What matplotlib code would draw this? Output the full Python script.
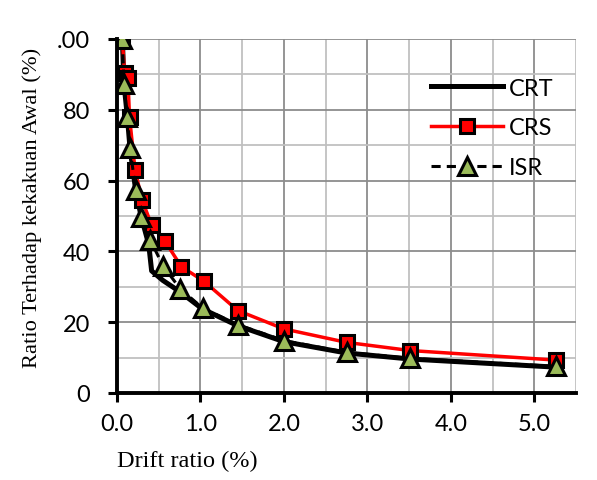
import matplotlib
matplotlib.use("Agg")
import matplotlib.pyplot as plt
from matplotlib.ticker import MultipleLocator

# ---- data ----
crt_x = [0.064, 0.084, 0.124, 0.156, 0.224, 0.29, 0.38, 0.415, 0.55, 0.76, 1.02, 1.447, 2.0, 2.75, 3.51, 5.26]
crt_y = [100, 87.3, 78.1, 69.1, 57.3, 49.8, 42.0, 34.5, 31.8, 28.5, 23.8, 19.0, 14.5, 11.3, 9.6, 7.3]

crs_x = [0.064, 0.09, 0.13, 0.15, 0.216, 0.30, 0.416, 0.575, 0.77, 1.04, 1.447, 2.0, 2.75, 3.51, 5.26]
crs_y = [100, 90.4, 89.0, 78.0, 63.0, 54.5, 47.4, 42.9, 35.7, 31.6, 23.3, 18.1, 14.3, 12.0, 9.3]

isr_x = [0.064, 0.084, 0.124, 0.156, 0.224, 0.29, 0.40, 0.555, 0.755, 1.025, 1.447, 2.0, 2.75, 3.51, 5.26]
isr_y = [100, 87.3, 78.1, 69.1, 57.3, 49.8, 43.1, 35.8, 29.5, 24.0, 19.3, 14.8, 11.5, 9.8, 7.5]

x_ticks = [0, 1, 2, 3, 4, 5]
x_tick_labels = ["0.0", "1.0", "2.0", "3.0", "4.0", "5.0"]
y_ticks = [0, 20, 40, 60, 80, 100]
y_tick_labels = ["0", "20", "40", "60", "80", ".00"]

W, H = 597, 481
fig = plt.figure(figsize=(W / 100, H / 100), dpi=100)
ax = fig.add_axes([117 / W, 1 - 394 / H, (576 - 117) / W, (394 - 40) / H])

ax.set_xlim(0, 5.5)
ax.set_ylim(0, 100)

ax.xaxis.set_minor_locator(MultipleLocator(0.5))
ax.yaxis.set_minor_locator(MultipleLocator(10))
ax.grid(which="major", color="#8c8c8c", linewidth=1.3, zorder=0)
ax.grid(which="minor", color="#c0c0c0", linewidth=1.3, zorder=0)
ax.set_axisbelow(True)

ax.plot(crt_x, crt_y, color="black", linewidth=3.6, label="CRT", zorder=3,
        solid_joinstyle="round")
ax.plot(crs_x, crs_y, color="#ff0000", linewidth=2.5, marker="s", markersize=9.5,
        markerfacecolor="#ff0000", markeredgecolor="black", markeredgewidth=2.2,
        label="CRS", zorder=4)
ax.plot(isr_x, isr_y, color="black", linewidth=2.2, linestyle=(0, (3, 2)),
        marker="^", markersize=12.5, markerfacecolor="#9bbb59",
        markeredgecolor="black", markeredgewidth=2.2, label="ISR", zorder=5)

ax.set_xticks(x_ticks)
ax.set_xticklabels(x_tick_labels)
ax.set_yticks(y_ticks)
ax.set_yticklabels(y_tick_labels)
ax.tick_params(which="major", direction="out", length=6.5, width=2.2,
               color="black", labelsize=17)
ax.tick_params(axis="y", pad=13)
ax.tick_params(axis="x", pad=8)
ax.tick_params(which="minor", length=0)
for lab in ax.get_xticklabels() + ax.get_yticklabels():
    lab.set_fontfamily("Lato")

for s in ["top", "right"]:
    ax.spines[s].set_visible(False)
for s in ["left", "bottom"]:
    ax.spines[s].set_linewidth(2.8)
    ax.spines[s].set_color("black")
    ax.spines[s].set_zorder(6)

leg = ax.legend(loc="center left", bbox_to_anchor=(430.7 / W, 1 - 129 / H),
                bbox_transform=fig.transFigure, frameon=False, borderpad=0,
                borderaxespad=0, handlelength=3.05, handletextpad=0.25,
                labelspacing=0.8, numpoints=1,
                prop={"family": "Lato", "size": 17})

fig.text(187 / W, 1 - 466.7 / H, "Drift ratio (%)", ha="center", va="baseline",
         fontfamily="Liberation Serif", fontsize=17.5)
fig.text(32 / W, 1 - 208 / H, "Ratio Terhadap kekakuan Awal (%)", ha="center",
         va="center", rotation=90, fontfamily="Liberation Serif", fontsize=16.2)

fig.savefig("out.png", dpi=100)
